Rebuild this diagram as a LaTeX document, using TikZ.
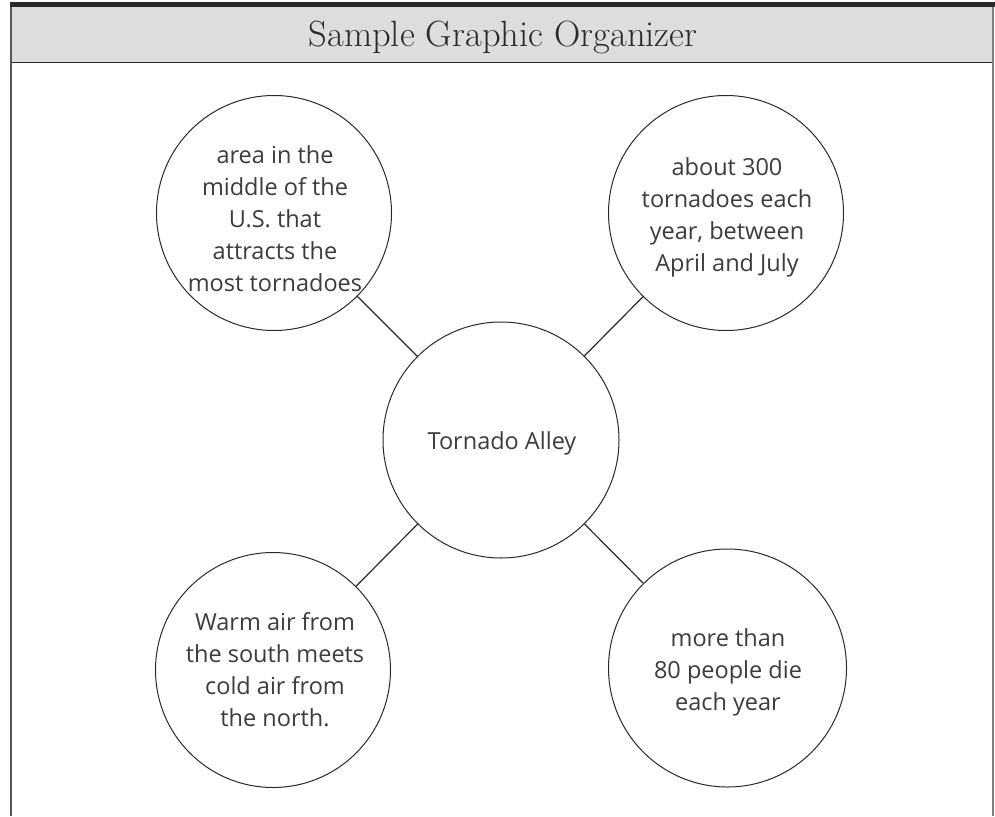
\documentclass[tikz,border=0pt]{standalone}
\usepackage{fontspec}
\setmainfont{Latin Modern Roman}
\newfontfamily\bodyfont{Open Sans}
\definecolor{hdrgray}{HTML}{DCDDDF}
\definecolor{inkc}{HTML}{2A2A2A}
\definecolor{txtc}{HTML}{3C3C3C}
\begin{document}
\begin{tikzpicture}[x=1pt,y=-1pt,
  bubble/.style={circle,draw=inkc,line width=1pt,minimum size=235pt,inner sep=0pt},
  btext/.style={align=center,text=txtc,inner sep=0pt,font=\bodyfont\fontsize{23.5}{32}\selectfont},
  link/.style={draw=inkc,line width=1.2pt}]
\useasboundingbox[fill=white] (0,0) rectangle (995,816);
% header
\fill[hdrgray] (11,7) rectangle (993,62);
\fill[inkc] (10,2) rectangle (995,7.5);
\draw[inkc,line width=1.4pt] (11,62.5) -- (993,62.5);
\draw[inkc!80,line width=1.2pt] (11,7) -- (11,816);
\draw[inkc!60,line width=1.2pt] (993,7) -- (993,816);
\node[font=\fontsize{36.5}{40}\selectfont,text=inkc,anchor=base,inner sep=0pt] (title) at (503,47)
  {Sample Graphic Organizer};
% circles
\node[bubble,minimum size=236pt] (c) at (501,440) {};
\node[bubble] (tl) at (274,213) {};
\node[bubble] (tr) at (726,213) {};
\node[bubble] (bl) at (273,670) {};
\node[bubble,minimum size=238pt] (br) at (727.5,668) {};
% texts
\node[btext] (ct) at (502,443) {Tornado Alley};
\node[btext] (tlt) at (275,218.5) {area in the\\middle of the\\U.S. that\\attracts the\\most tornadoes};
\node[btext] (trt) at (727,217.5) {about 300\\tornadoes each\\year, between\\April and July};
\node[btext] (blt) at (275,670) {Warm air from\\the south meets\\cold air from\\the north.};
\node[btext] (brt) at (728,672) {more than\\80 people die\\each year};
% connectors
\draw[link] (tl) -- (c);
\draw[link] (tr) -- (c);
\draw[link] (bl) -- (c);
\draw[link] (br) -- (c);
\end{tikzpicture}
\end{document}
